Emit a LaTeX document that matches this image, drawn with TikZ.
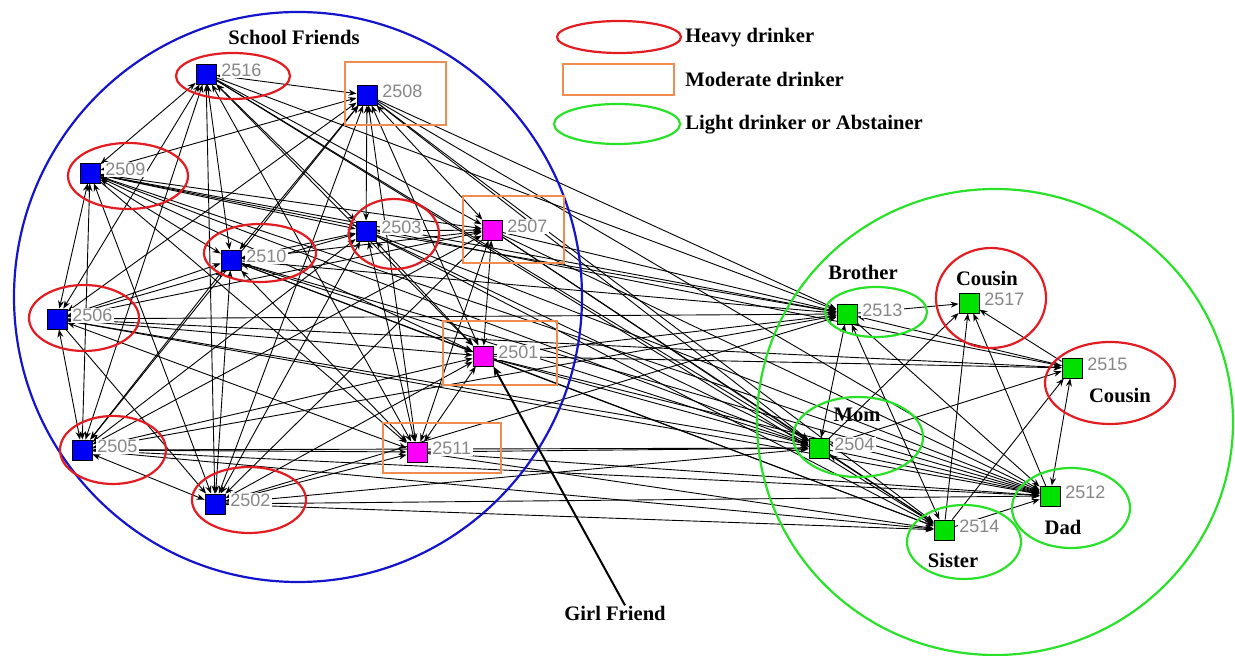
\documentclass[tikz,border=0pt]{standalone}
\usepackage{fontspec}
\setmainfont{Liberation Serif}
\newfontfamily\numfont{Liberation Sans}
\usetikzlibrary{arrows.meta}
\pgfdeclarelayer{links}
\pgfsetlayers{links,main}

\definecolor{heavyred}{RGB}{226,28,32}
\definecolor{modorange}{RGB}{240,140,80}
\definecolor{lightgreen}{RGB}{40,225,40}
\definecolor{ringblue}{RGB}{20,20,205}
\definecolor{sqblue}{RGB}{0,0,245}
\definecolor{sqpink}{RGB}{250,0,250}
\definecolor{sqgreen}{RGB}{0,225,0}
\definecolor{numgray}{RGB}{135,135,135}

\tikzset{
  actor/.style={draw=black, line width=0.4pt, minimum size=10pt, inner sep=0pt},
  friend/.style={actor, fill=sqblue},
  partner/.style={actor, fill=sqpink},
  kin/.style={actor, fill=sqgreen},
  num/.style={fill=white, inner sep=0.8pt, text=numgray, anchor=west,
              font=\numfont\fontsize{9}{10}\selectfont},
  tie/.style={draw=black, line width=0.45pt, -{Stealth[length=4pt,width=3pt]}},
  mutual/.style={draw=black, line width=0.45pt,
                 {Stealth[length=4pt,width=3pt]}-{Stealth[length=4pt,width=3pt]}},
  heavy/.style={draw=heavyred, line width=1.1pt},
  moderate/.style={draw=modorange, line width=1.1pt},
  light/.style={draw=lightgreen, line width=1.1pt},
  tag/.style={font=\bfseries\fontsize{10.3}{12}\selectfont, text=black, inner sep=0pt},
}

% square for an actor plus its grey id label to the right
\newcommand\putactor[4]{%
  \node[#2] (n#1) at (#3,#4) {};
  \node[num] (n#1l) at ([xshift=1.5pt,yshift=1.75pt]n#1.east) {#1};
}

\begin{document}
\begin{tikzpicture}[x=0.5pt,y=-0.5pt]
\useasboundingbox (0,0) rectangle (1235,656);

% ---- actors ----
\putactor{2516}{friend}{206}{74}
\putactor{2508}{friend}{367}{95}
\putactor{2509}{friend}{90}{173}
\putactor{2503}{friend}{366}{231}
\putactor{2507}{partner}{492}{230}
\putactor{2510}{friend}{231}{260}
\putactor{2506}{friend}{57}{319}
\putactor{2501}{partner}{483}{356}
\putactor{2505}{friend}{82}{450}
\putactor{2511}{partner}{417}{452}
\putactor{2502}{friend}{215}{504}
\putactor{2513}{kin}{847}{314}
\putactor{2517}{kin}{969}{303}
\putactor{2515}{kin}{1072}{368}
\putactor{2504}{kin}{819}{448}
\putactor{2512}{kin}{1050}{496}
\putactor{2514}{kin}{944}{530}

% ---- ties ----
\begin{pgfonlayer}{links}
  % reciprocal ties among school friends
  \foreach \a/\b in {2516/2508,2516/2509,2516/2503,2516/2510,2516/2506,2516/2501,
      2516/2505,2516/2511,2516/2502,2508/2509,2508/2503,2508/2507,2508/2510,
      2508/2506,2508/2501,2508/2505,2508/2511,2508/2502,2509/2503,2509/2507,
      2509/2510,2509/2506,2509/2501,2509/2505,2509/2502,2503/2507,2503/2510,
      2503/2506,2503/2501,2503/2505,2503/2511,2503/2502,2507/2510,2507/2506,
      2507/2501,2507/2505,2507/2511,2510/2506,2510/2501,2510/2505,2510/2511,
      2510/2502,2506/2501,2506/2505,2506/2511,2501/2505,2501/2511,2501/2502,
      2505/2511,2505/2502,2511/2502}
    \draw[mutual] (n\a) -- (n\b);
  % one-way ties among school friends
  \foreach \a/\b in {2516/2507,2509/2511,2507/2502,2506/2502}
    \draw[tie] (n\a) -- (n\b);
  % ties from school friends to the family
  \foreach \s in {2516,2508,2509,2503,2507,2510,2506,2501,2505,2502}
    \draw[tie] (n\s) -- (n2513);
  \foreach \s in {2516,2508,2509,2503,2507,2510,2506,2501,2505,2511,2502}
    \draw[tie] (n\s) -- (n2504);
  \foreach \s in {2508,2509,2503,2507,2510,2506,2501,2505,2511,2502}
    \draw[tie] (n\s) -- (n2512);
  \foreach \s in {2516,2508,2503,2507,2510,2501,2505,2511,2502}
    \draw[tie] (n\s) -- (n2514);
  \foreach \s in {2506,2501,2509}
    \draw[tie] (n\s) -- (n2515);
  % ties within the family
  \foreach \a/\b in {2513/2517,2513/2512,2515/2513,2515/2517,2504/2517,
      2504/2515,2514/2517,2512/2517,2514/2515,2504/2512,2514/2512}
    \draw[tie] (n\a) -- (n\b);
  \foreach \a/\b in {2513/2504,2514/2513,2512/2515,2504/2514}
    \draw[mutual] (n\a) -- (n\b);
\end{pgfonlayer}

% ---- group rings ----
\draw[draw=ringblue, line width=1.1pt] (298,297) ellipse [x radius=142pt, y radius=142.5pt];
\draw[light] (995,422) ellipse [x radius=119pt, y radius=116.5pt];

% ---- drinking category outlines ----
\draw[heavy] (233,76) ellipse [x radius=28.5pt, y radius=11.5pt];
\draw[heavy] (128,176) ellipse [x radius=30pt, y radius=16.5pt];
\draw[heavy] (260,253) ellipse [x radius=28pt, y radius=14.5pt];
\draw[heavy] (394,234) ellipse [x radius=22.5pt, y radius=17.5pt];
\draw[heavy] (84,318) ellipse [x radius=27.5pt, y radius=16.5pt];
\draw[heavy] (113,450) ellipse [x radius=26.5pt, y radius=17pt];
\draw[heavy] (249,500) ellipse [x radius=28.5pt, y radius=16.5pt];
\draw[heavy] (991,298) ellipse [x radius=27.5pt, y radius=25pt];
\draw[heavy] (1110,383) ellipse [x radius=32.5pt, y radius=20.5pt];

\draw[moderate] (345,62) rectangle (446,125);
\draw[moderate] (463,196) rectangle (564,263);
\draw[moderate] (443,321) rectangle (557,385);
\draw[moderate] (383,423) rectangle (501,473);

\draw[light] (876,312) ellipse [x radius=25.5pt, y radius=12.5pt];
\draw[light] (858,437) ellipse [x radius=32.5pt, y radius=20pt];
\draw[light] (1071,508) ellipse [x radius=29.5pt, y radius=20pt];
\draw[light] (964,542) ellipse [x radius=28.5pt, y radius=18.5pt];

% ---- captions ----
\node[tag] (school) at (294,37) {School Friends};
\node[tag] (brother) at (863,272) {Brother};
\node[tag] (cousinA) at (987,278) {Cousin};
\node[tag] (cousinB) at (1120,395) {Cousin};
\node[tag] (mom) at (857,415) {Mom};
\node[tag] (dad) at (1063,527) {Dad};
\node[tag] (sister) at (953,560) {Sister};
\node[tag] (gf) at (615,613) {Girl Friend};
\draw[line width=1pt, -{Stealth[length=5pt,width=4pt]}]
  ([xshift=5pt]gf.north) -- (n2501.south east);

% ---- legend ----
\draw[heavy] (619,37) ellipse [x radius=31pt, y radius=8pt];
\draw[moderate] (563,64) rectangle (674,95);
\draw[light] (617,124) ellipse [x radius=31.5pt, y radius=10pt];
\node[tag, anchor=west] (lgheavy) at (685,38) {Heavy drinker};
\node[tag, anchor=west] (lgmod) at (685,79) {Moderate drinker};
\node[tag, anchor=west] (lglight) at (685,125) {Light drinker or Abstainer};
\end{tikzpicture}
\end{document}
